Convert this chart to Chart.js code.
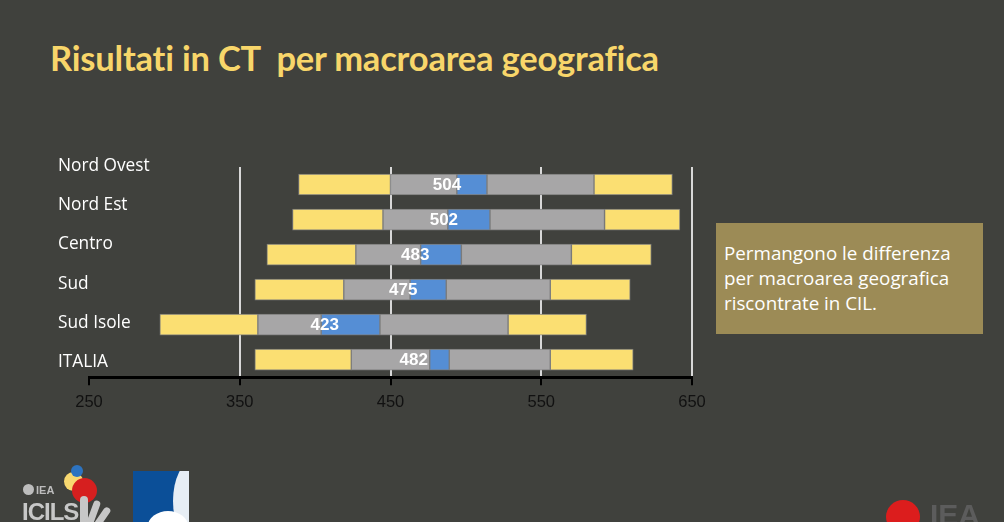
<!DOCTYPE html>
<html>
<head>
<meta charset="utf-8">
<script src="https://cdn.jsdelivr.net/npm/chart.js@4.4.1/dist/chart.umd.min.js"></script>
<style>
  html, body { margin: 0; padding: 0; background: #40413d; width: 1004px; height: 522px; overflow: hidden; position: relative; }
  #wrap { position: absolute; left: 0; top: 0; width: 1004px; height: 522px; }
  h1 { position: absolute; left: 50px; top: 37px; margin: 0; font: bold 34.5px Lato, sans-serif; color: #f8d66a; letter-spacing: -0.2px; white-space: pre; }
  .box { position: absolute; left: 716px; top: 223px; width: 267px; height: 111px; background: #9c8b56; color: #fff;
         font: 18.8px "Open Sans", sans-serif; line-height: 25px; box-sizing: border-box; padding: 18px 0 0 8px; }
  .dot { position: absolute; border-radius: 50%; }
</style>
</head>
<body>
<h1>Risultati in CT  per macroarea geografica</h1>
<div id="wrap"><canvas id="chart"></canvas></div>
<div class="box">Permangono le differenza<br>per macroarea geografica<br>riscontrate in CIL.</div>

<!-- loghi in basso, approssimati -->
<div class="dot" style="left:64px;top:472px;width:19px;height:19px;background:#f8d870"></div>
<div class="dot" style="left:72px;top:478px;width:25px;height:25px;background:#d61f1f"></div>
<div class="dot" style="left:71px;top:465px;width:12px;height:12px;background:#2d73c0"></div>
<div style="position:absolute;left:36px;top:484px;font:bold 11px 'Liberation Sans',sans-serif;color:#bdbdbd">IEA</div>
<div class="dot" style="left:23px;top:484px;width:11px;height:11px;background:#bdbdbd"></div>
<div style="position:absolute;left:22px;top:498px;font:bold 24px 'Liberation Sans Narrow','Liberation Sans',sans-serif;color:#c7c7c7;letter-spacing:-1px">ICILS</div>
<div style="position:absolute;left:80px;top:496px;width:8px;height:30px;background:#c7c7c7;border-radius:4px"></div>
<div style="position:absolute;left:90px;top:500px;width:7px;height:26px;background:#c7c7c7;border-radius:4px;transform:rotate(20deg)"></div>
<div style="position:absolute;left:99px;top:506px;width:7px;height:22px;background:#c7c7c7;border-radius:4px;transform:rotate(35deg)"></div>
<div style="position:absolute;left:133px;top:471px;width:56px;height:51px;background:#0b4f98;overflow:hidden">
  <div class="dot" style="left:40px;top:-10px;width:40px;height:80px;background:#fff;opacity:0.9"></div>
  <div class="dot" style="left:15px;top:40px;width:40px;height:30px;background:#fff"></div>
</div>
<div class="dot" style="left:886px;top:500px;width:34px;height:34px;background:#dc1d1d"></div>
<div style="position:absolute;left:930px;top:498px;font:bold 30px 'Liberation Sans',sans-serif;color:#5c5c5c">IEA</div>

<script>
// dati (percentili e intervallo di confidenza della media)
const categories = ['Nord Ovest', 'Nord Est', 'Centro', 'Sud', 'Sud Isole', 'ITALIA'];
const p5     = [389, 385, 368, 360, 297, 360];
const p25    = [450, 445, 427, 419, 362, 424];
const ciLow  = [494, 488, 470, 463, 404, 476];
const ciHigh = [514, 516, 497, 487, 443, 489];
const p75    = [585, 592, 570, 556, 528, 556];
const p95    = [637, 642, 623, 609, 580, 611];
const means  = [504, 502, 483, 475, 423, 482];
const xTicks = [250, 350, 450, 550, 650];

const YELLOW = '#fbdf72';
const GREY = '#a7a6a7';
const BLUE = '#558ed5';

function range(a, b) {
  return a.map((v, i) => [v, b[i]]);
}

function seg(label, data, color) {
  return {
    label: label,
    data: data,
    backgroundColor: color,
    borderColor: 'rgba(130,130,130,0.9)',
    borderWidth: 1,
    borderSkipped: false,
    grouped: false,
    barThickness: 21
  };
}

// etichette delle categorie e dei valori medi
const labelPlugin = {
  id: 'labels',
  afterDatasetsDraw(chart) {
    const ctx = chart.ctx;
    const x = chart.scales.x;
    const y = chart.scales.y;
    ctx.save();
    ctx.fillStyle = '#ffffff';
    ctx.textBaseline = 'middle';
    ctx.font = 'bold 17px "Liberation Sans", Arial, sans-serif';
    ctx.textAlign = 'center';
    means.forEach((m, i) => {
      ctx.fillText(String(m), x.getPixelForValue(m) - 25, y.getPixelForValue(i) + 1);
    });
    ctx.font = '17.3px "Open Sans", sans-serif';
    ctx.textAlign = 'left';
    categories.forEach((c, i) => {
      ctx.fillText(c, 58, 166 + i * 39.2);
    });
    ctx.restore();
  }
};

const ctx = document.getElementById('chart').getContext('2d');
new Chart(ctx, {
  type: 'bar',
  data: {
    labels: categories,
    datasets: [
      seg('5-25', range(p5, p25), YELLOW),
      seg('25-IC', range(p25, ciLow), GREY),
      seg('IC', range(ciLow, ciHigh), BLUE),
      seg('IC-75', range(ciHigh, p75), GREY),
      seg('75-95', range(p75, p95), YELLOW)
    ]
  },
  options: {
    indexAxis: 'y',
    responsive: true,
    maintainAspectRatio: false,
    animation: false,
    layout: { padding: { left: 89, right: 312, top: 167, bottom: 103 } },
    plugins: { legend: { display: false }, tooltip: { enabled: false } },
    scales: {
      y: { display: false, offset: true },
      x: {
        min: 250,
        max: 650,
        afterBuildTicks: axis => { axis.ticks = xTicks.map(v => ({ value: v })); },
        border: { display: true, color: '#000000', width: 3 },
        grid: {
          color: c => (c.tick && c.tick.value === 250 ? 'rgba(0,0,0,0)' : '#d8d8d8'),
          lineWidth: 2,
          tickColor: '#000000',
          tickLength: 8,
          drawTicks: true
        },
        ticks: {
          color: '#111111',
          font: { family: '"Liberation Sans", Arial, sans-serif', size: 16.5 },
          padding: 7
        }
      }
    }
  },
  plugins: [labelPlugin]
});
</script>
</body>
</html>
